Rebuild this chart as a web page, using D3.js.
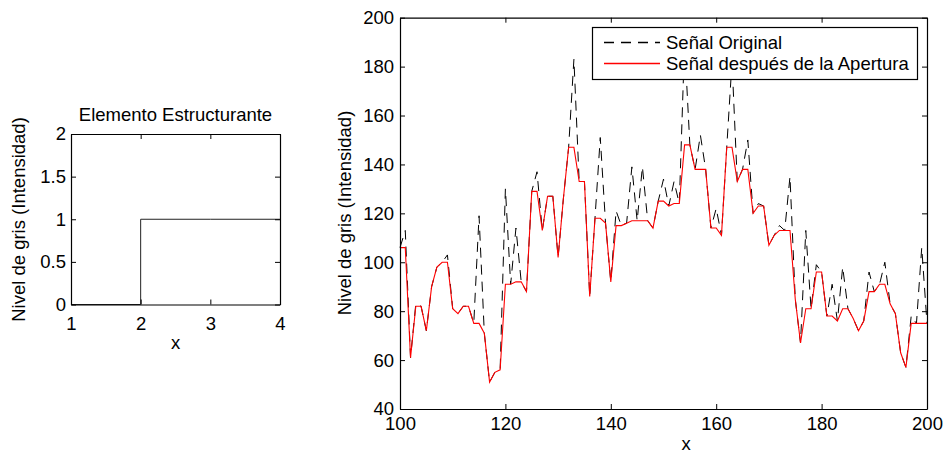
<!DOCTYPE html>
<html>
<head>
<meta charset="utf-8">
<script src="https://cdn.jsdelivr.net/npm/d3@7"></script>
<style>
  body { margin: 0; background: #fff; }
  svg { font-family: "Liberation Sans", Arial, sans-serif; }
  .axis text { font-size: 18.5px; fill: #000; }
  .axis path, .axis line { stroke: #000; }
</style>
</head>
<body>
<svg id="chart" width="944" height="455"></svg>
<script>
// structuring element (stairs)
var seX = [1, 2, 3, 4];
var seY = [0, 1, 1, 1];
var seXTicks = [1, 2, 3, 4];
var seYTicks = [0, 0.5, 1, 1.5, 2];

// signal samples, x = 100..200
var sigX = d3.range(100, 201);
var original = [106,113,61,83,82,72,90,98,100,103,
  81,79,82,82,75,119,71,51,55,56,
  130,91,114,92,88,129,137,113,127,127,
  102,126,147,183,133,133,86,118,151,116,
  92,121,115,116,139,117,139,117,114,125,
  134,123,133,124,190,148,138,152,138,114,
  122,111,147,182,133,138,150,120,124,123,
  107,111,115,113,135,85,67,113,81,99,
  96,78,91,76,98,81,77,72,76,96,
  88,91,100,83,79,63,57,78,75,106,
  75];
var opened = [106,106,61,82,82,72,90,98,100,100,
  81,79,82,82,75,75,71,51,55,56,
  91,91,92,92,88,129,129,113,127,127,
  102,126,147,147,133,133,86,118,118,116,
  92,115,115,116,117,117,117,117,114,125,
  125,123,124,124,148,148,138,138,138,114,
  114,111,147,147,133,138,138,120,123,123,
  107,111,113,113,113,85,67,81,81,96,
  96,78,78,76,81,81,77,72,76,88,
  88,91,91,83,79,63,57,75,75,75,
  75];
var xTicks = [100, 120, 140, 160, 180, 200];
var yTicks = [40, 60, 80, 100, 120, 140, 160, 180, 200];
var legendLabels = ["Señal Original", "Señal después de la Apertura"];
var legendColors = ["#000", "#ff0000"];

var svg = d3.select("#chart");
var fmt = d3.format("");

//draw the box with inward ticks on all four sides
function boxAxes(g, x, y, xt, yt, xpad, ypad) {
  g.append("g").attr("class", "axis")
    .attr("transform", "translate(0," + y.range()[0] + ")")
    .call(d3.axisBottom(x).tickValues(xt).tickSize(-5).tickSizeOuter(0).tickPadding(xpad).tickFormat(fmt))
    .call(function(a){ a.selectAll("text").attr("dy", "0.71em"); });
  g.append("g").attr("class", "axis")
    .attr("transform", "translate(0," + y.range()[1] + ")")
    .call(d3.axisTop(x).tickValues(xt).tickSize(-5).tickSizeOuter(0).tickFormat(""));
  g.append("g").attr("class", "axis")
    .attr("transform", "translate(" + x.range()[0] + ",0)")
    .call(d3.axisLeft(y).tickValues(yt).tickSize(-5).tickSizeOuter(0).tickPadding(ypad).tickFormat(fmt));
  g.append("g").attr("class", "axis")
    .attr("transform", "translate(" + x.range()[1] + ",0)")
    .call(d3.axisRight(y).tickValues(yt).tickSize(-5).tickSizeOuter(0).tickFormat(""));
  g.selectAll(".axis path").attr("stroke-width", 1.2);
}

// ---- left: structuring element
var xL = d3.scaleLinear().domain([1, 4]).range([71, 280]);
var yL = d3.scaleLinear().domain([0, 2]).range([304.5, 134]);
var gL = svg.append("g");

gL.append("path")
  .datum(seX.map(function(d, i){ return [d, seY[i]]; }))
  .attr("fill", "none").attr("stroke", "#222").attr("stroke-width", 1)
  .attr("d", d3.line().x(function(d){ return xL(d[0]); }).y(function(d){ return yL(d[1]); }).curve(d3.curveStepAfter));

boxAxes(gL, xL, yL, seXTicks, seYTicks, 12, 5);

gL.append("text").attr("x", 175.5).attr("y", 121).attr("text-anchor", "middle")
  .style("font-size", "18.5px").text("Elemento Estructurante");
gL.append("text").attr("x", 175.5).attr("y", 349).attr("text-anchor", "middle")
  .style("font-size", "18.5px").text("x");
gL.append("text").attr("transform", "translate(19,219.5) rotate(-90)")
  .attr("dy", "0.35em").attr("text-anchor", "middle")
  .style("font-size", "18.5px").text("Nivel de gris (Intensidad)");

// ---- right: signal
var xR = d3.scaleLinear().domain([100, 200]).range([400, 927]);
var yR = d3.scaleLinear().domain([40, 200]).range([409, 17.7]);
var gR = svg.append("g");

var line = d3.line()
  .x(function(d, i){ return xR(sigX[i]); })
  .y(function(d){ return yR(d); });

gR.append("path").datum(original)
  .style("fill", "none").style("stroke", legendColors[0]).style("stroke-width", 1)
  .style("stroke-dasharray", "10,7").attr("d", line);
gR.append("path").datum(opened)
  .style("fill", "none").style("stroke", legendColors[1]).style("stroke-width", 1.1)
  .attr("d", line);

boxAxes(gR, xR, yR, xTicks, yTicks, 8, 6);

gR.append("text").attr("x", 686).attr("y", 450).attr("text-anchor", "middle")
  .style("font-size", "18.5px").text("x");
gR.append("text").attr("transform", "translate(345,213) rotate(-90)")
  .attr("dy", "0.35em").attr("text-anchor", "middle")
  .style("font-size", "18.5px").text("Nivel de gris (Intensidad)");

// legend
var lg = gR.append("g");
lg.append("rect").attr("x", 592.5).attr("y", 27.5).attr("width", 325).attr("height", 52)
  .attr("fill", "#fff").attr("stroke", "#000").attr("stroke-width", 1.2);
legendLabels.forEach(function(t, i){
  var yy = 42.5 + i * 21;
  lg.append("line").attr("x1", 604).attr("x2", 660).attr("y1", yy).attr("y2", yy)
    .style("stroke", legendColors[i]).style("stroke-width", 1.3)
    .style("stroke-dasharray", i == 0 ? "10,7" : "none");
  lg.append("text").attr("x", 666).attr("y", yy).attr("dy", "0.35em")
    .style("font-size", "18.5px").text(t);
});
</script>
</body>
</html>
